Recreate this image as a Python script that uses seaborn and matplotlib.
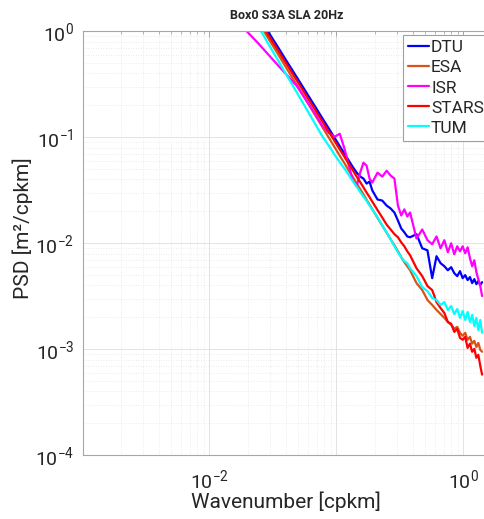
import numpy as np
import pandas as pd
import matplotlib
matplotlib.use("Agg")
import matplotlib.pyplot as plt
import seaborn as sns
from matplotlib.ticker import FixedLocator, FixedFormatter, LogLocator, NullFormatter

# ---------------- data ----------------
products = ["DTU", "ESA", "ISR", "STARS", "TUM"]
colors = ["#0000FF", "#D95319", "#FF00FF", "#FF0000", "#00FFFF"]

k_cpkm = [0.0149, 0.0197, 0.0246, 0.0294, 0.0343, 0.0391, 0.0488, 0.0584, 0.0680, 0.0776, 0.0872,
          0.0968, 0.1063, 0.1159, 0.1254, 0.1349, 0.1445, 0.1540, 0.1635, 0.1730, 0.1825, 0.1919,
          0.2109, 0.2298, 0.2488, 0.2677, 0.2866, 0.3054, 0.3243, 0.3431, 0.3619,
          0.3807, 0.4278, 0.4747, 0.5218, 0.5685, 0.6152, 0.6621, 0.7087, 0.7555, 0.8020, 0.8487,
          0.8954, 0.9419, 0.9883, 1.035, 1.081, 1.128, 1.174, 1.221, 1.267, 1.313, 1.360, 1.406]

psd_dtu = [3.66, 2.09, 1.37, 0.966, 0.723, 0.561, 0.368, 0.261, 0.195, 0.151, 0.121,
           0.0987, 0.0825, 0.070, 0.0601, 0.0523, 0.0464, 0.0426, 0.0408, 0.0366, 0.0382, 0.0315,
           0.0259, 0.0253, 0.0227, 0.0213, 0.0195, 0.0164, 0.0138, 0.0127, 0.0116,
           0.0114, 0.0122, 0.00897, 0.00859, 0.00469, 0.00755, 0.00649, 0.00608, 0.00557, 0.00595,
           0.00523, 0.00490, 0.00546, 0.00469, 0.00501, 0.00450, 0.00480, 0.00421, 0.00459,
           0.00412, 0.00440, 0.00404, 0.00430]

psd_esa = [3.24, 1.85, 1.20, 0.839, 0.623, 0.480, 0.311, 0.219, 0.162, 0.125, 0.0993,
           0.0807, 0.0670, 0.0568, 0.0484, 0.0421, 0.0367, 0.0324, 0.0289, 0.0257, 0.0232, 0.0210,
           0.0174, 0.0147, 0.0126, 0.0109, 0.00957, 0.00841, 0.00739, 0.00664, 0.00608,
           0.00557, 0.00421, 0.00362, 0.00292, 0.00262, 0.00235, 0.00215, 0.00198, 0.00181, 0.00170,
           0.00156, 0.00163, 0.00143, 0.00134, 0.00143, 0.00123, 0.00131, 0.00113, 0.00120,
           0.00105, 0.00115, 0.000989, 0.000948]

psd_isr = [1.46, 1.0, 0.755, 0.595, 0.485, 0.408, 0.305, 0.220, 0.166, 0.128, 0.110,
           0.101, 0.108, 0.078, 0.054, 0.0391, 0.0343, 0.0464, 0.0576, 0.054, 0.0408, 0.0374,
           0.0464, 0.0426, 0.0484, 0.0435, 0.0408, 0.0227, 0.0183, 0.0209, 0.0179,
           0.0195, 0.0111, 0.0135, 0.0107, 0.0098, 0.0116, 0.00897, 0.0107, 0.00823, 0.0100,
           0.00788, 0.00937, 0.00841, 0.00937, 0.00805, 0.00917, 0.00723, 0.00608, 0.00692,
           0.00535, 0.00459, 0.00395, 0.00318]

psd_stars = [3.37, 1.95, 1.28, 0.903, 0.675, 0.524, 0.344, 0.243, 0.182, 0.141, 0.113,
             0.0921, 0.0769, 0.0653, 0.0560, 0.0488, 0.0426, 0.0378, 0.0337, 0.0301, 0.0273, 0.0247,
             0.0206, 0.0175, 0.0150, 0.0135, 0.0122, 0.0114, 0.0102, 0.00937, 0.00841,
             0.00771, 0.00582, 0.00490, 0.00395, 0.00362, 0.00279, 0.00245, 0.00220, 0.00181, 0.00174,
             0.00146, 0.00156, 0.00128, 0.00123, 0.00131, 0.00103, 0.00113, 0.000948, 0.00101,
             0.000832, 0.000887, 0.000700, 0.000577]

psd_tum = [3.04, 1.69, 1.08, 0.745, 0.546, 0.416, 0.265, 0.183, 0.134, 0.102, 0.0832,
           0.0685, 0.0583, 0.0506, 0.0440, 0.0386, 0.0343, 0.0305, 0.0276, 0.0251, 0.0227, 0.0209,
           0.0176, 0.0148, 0.0127, 0.0109, 0.00937, 0.00823, 0.00739, 0.00678, 0.00649,
           0.00582, 0.00490, 0.00386, 0.00354, 0.00305, 0.00292, 0.00262, 0.00279, 0.00235, 0.00256,
           0.00215, 0.00240, 0.00198, 0.00230, 0.00189, 0.00225, 0.00181, 0.00211, 0.00166,
           0.00198, 0.00152, 0.00189, 0.00143]

x_ticks = [1e-3, 1e-2, 1e-1, 1e0]
x_tick_labels = ["", "$10^{-2}$", "", "$10^{0}$"]
y_ticks = [1e-4, 1e-3, 1e-2, 1e-1, 1e0]
y_tick_labels = ["$10^{-4}$", "$10^{-3}$", "$10^{-2}$", "$10^{-1}$", "$10^{0}$"]

# ---------------- figure ----------------
sns.set_theme(style="white")
plt.rcParams["font.family"] = ["Roboto", "DejaVu Sans"]
plt.rcParams["mathtext.default"] = "regular"

W, H = 485, 519
fig = plt.figure(figsize=(W / 100, H / 100), dpi=100)
ax = fig.add_axes([82.5 / W, 1 - 455.3 / H, (W - 82.5) / W, (455.3 - 31.3) / H])

series = [psd_dtu, psd_esa, psd_isr, psd_stars, psd_tum]
df = pd.concat(
    [pd.DataFrame({"k": k_cpkm, "psd": v, "product": p}) for p, v in zip(products, series)],
    ignore_index=True,
)
sns.lineplot(data=df, x="k", y="psd", hue="product", hue_order=products,
             palette=dict(zip(products, colors)), estimator=None, sort=False,
             linewidth=1.6, ax=ax)

ax.set_xscale("log")
ax.set_yscale("log")
ax.set_xlim(1e-3, 1.482)
ax.set_ylim(1e-4, 1)

ax.xaxis.set_major_locator(FixedLocator(x_ticks))
ax.xaxis.set_major_formatter(FixedFormatter(x_tick_labels))
ax.yaxis.set_major_locator(FixedLocator(y_ticks))
ax.yaxis.set_major_formatter(FixedFormatter(y_tick_labels))
for axis in (ax.xaxis, ax.yaxis):
    axis.set_minor_locator(LogLocator(base=10, subs=np.arange(2, 10), numticks=60))
    axis.set_minor_formatter(NullFormatter())

ax.grid(True, which="major", color="#dedede", linewidth=0.6, linestyle="-")
ax.grid(True, which="minor", color="#e4e4e4", linewidth=0.6, linestyle=(0, (1, 2)))
ax.set_axisbelow(True)

ax.tick_params(which="both", direction="in", top=True, right=False, color="#9a9a9a",
               labelcolor="#262626", labelsize=14)
ax.tick_params(which="major", length=4.5, width=0.6)
ax.tick_params(which="minor", length=2.5, width=0.5)
ax.tick_params(axis="x", pad=9)
ax.tick_params(axis="y", pad=6)

for side in ("left", "bottom", "top"):
    ax.spines[side].set_color("#a6a6a6")
    ax.spines[side].set_linewidth(0.8)
ax.spines["right"].set_visible(False)

ax.set_xlabel("Wavenumber [cpkm]", fontsize=15, color="#262626")
ax.set_ylabel("PSD [m\u00b2/cpkm]", fontsize=15, color="#262626")
ax.xaxis.set_label_coords(0.506, -0.086)
ax.yaxis.set_label_coords(-0.123, 0.536)

fig.text(287 / W, 1 - 15.7 / H, "Box0 S3A SLA 20Hz", ha="center", va="center",
         fontsize=9, fontweight="bold", color="#262626")

handles, labels = ax.get_legend_handles_labels()
leg = ax.legend(handles, labels, loc="upper left", bbox_to_anchor=(0.796, 0.991),
                frameon=True, fancybox=False, framealpha=1, edgecolor="#a0a0a0",
                fontsize=12.5, handlelength=1.2, handletextpad=0.12, borderpad=0.3,
                borderaxespad=0, labelspacing=0.28)
leg.get_frame().set_linewidth(0.8)
# the legend's frame runs past the cropped right edge of the picture, as in the reference
leg._legend_box.set_clip_on(False)
for t in leg.get_texts():
    t.set_color("#262626")

fig.savefig("out.png", dpi=100)
